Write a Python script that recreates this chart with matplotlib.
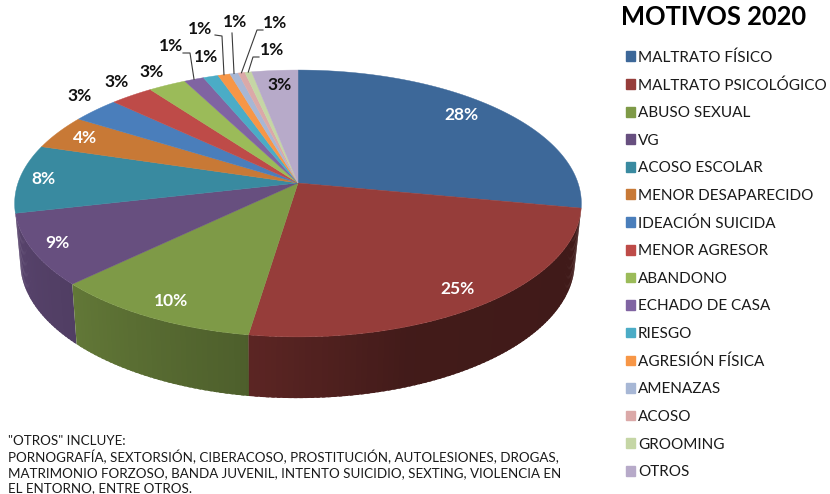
import numpy as np
import matplotlib
matplotlib.use('Agg')
import matplotlib.pyplot as plt
from matplotlib.patches import Patch, Polygon

plt.rcParams['font.family'] = ['Lato', 'DejaVu Sans']

# data
motivos = ['MALTRATO FÍSICO', 'MALTRATO PSICOLÓGICO', 'ABUSO SEXUAL', 'VG', 'ACOSO ESCOLAR',
           'MENOR DESAPARECIDO', 'IDEACIÓN SUICIDA', 'MENOR AGRESOR', 'ABANDONO', 'ECHADO DE CASA',
           'RIESGO', 'AGRESIÓN FÍSICA', 'AMENAZAS', 'ACOSO', 'GROOMING', 'OTROS']
valores = [28.0, 24.4, 10.4, 8.6, 8.3, 4.2, 3.15, 2.85, 2.5, 1.3, 1.0, 0.8, 0.55, 0.45, 0.45, 3.05]
etiquetas = ['28%', '25%', '10%', '9%', '8%', '4%', '3%', '3%', '3%', '1%', '1%', '1%', '1%', '1%', '1%', '3%']
colores = ['#3d6899', '#963d3a', '#7e9a47', '#674f7f', '#398aa0', '#c87936', '#4a7ebb', '#be4b48',
           '#9bbb59', '#8064a2', '#4bacc6', '#f79646', '#a7b7d5', '#dba9a8', '#c5d6a5', '#b7aac9']
nota = ['"OTROS" INCLUYE:',
        'PORNOGRAFÍA, SEXTORSIÓN, CIBERACOSO, PROSTITUCIÓN, AUTOLESIONES, DROGAS,',
        'MATRIMONIO FORZOSO, BANDA JUVENIL, INTENTO SUICIDIO, SEXTING, VIOLENCIA EN',
        'EL ENTORNO, ENTRE OTROS.']

# where each percentage sits in the picture, and the elbow of its leader if it has one
pos_etiquetas = [(461, 115), (457, 289), (171, 301), (57, 243), (43, 179), (85, 138), (80, 96), (117, 82),
                 (152, 72), (171, 46), (206, 57), (200, 29), (235, 22), (275, 23), (272, 50), (280, 85)]
color_etiquetas = ['white'] * 6 + ['#111111'] * 10
codos = {9: [(183, 53), (190, 53)], 11: [(215, 35), (222, 36)], 12: [(232, 33)],
         13: [(263, 30), (257, 30)], 14: [(259, 57), (253, 57)]}

P = 0.1535


def proyecta(ang, cx, cy, a, b):
    # ang in degrees clockwise from the top, perspective makes the front bigger
    u = np.sin(np.radians(ang))
    v = -np.cos(np.radians(ang))
    s = 1 / (1 - P * v)
    return cx + b * u * s, cy + a * v * s


def cara(ang):
    return proyecta(ang, 298, 183, 130.3, 280)


def base(ang):
    return proyecta(ang, 297.5, 241, 133, 274)


def sombra(ang):
    return np.interp(ang, [95, 160, 190, 226, 262], [0.42, 0.44, 0.62, 0.78, 0.87])


def oscurece(color, f):
    return tuple(c * f for c in matplotlib.colors.to_rgb(color))


fig = plt.figure(figsize=(8.3, 4.94), dpi=100)
ax = fig.add_axes([0, 0, 1, 1])
ax.set_xlim(0, 830)
ax.set_ylim(494, 0)
ax.axis('off')

limites = np.concatenate([[0], np.cumsum(valores)]) / sum(valores) * 360

# side wall, only the three slices facing us. strips overlap the next one so no seams show
for i in [3, 2, 1]:
    ini, fin = limites[i], limites[i + 1]
    angs = np.arange(fin, ini, -1.0)
    for a1 in angs:
        a0 = max(a1 - 1.6, ini)
        c = oscurece(colores[i], sombra(a1 - 0.5))
        ax.add_patch(Polygon([cara(a0), cara(a1), base(a1), base(a0)], closed=True,
                             facecolor=c, edgecolor='none', zorder=2))

# top face
for i, color in enumerate(colores):
    angs = np.linspace(limites[i], limites[i + 1], max(int(valores[i] * 6), 4))
    pts = [cara(a) for a in angs] + [(298, 183)]
    ax.add_patch(Polygon(pts, closed=True, facecolor=color, edgecolor=color, linewidth=0.3, zorder=3))

# leaders
for i, elbow in codos.items():
    media = (limites[i] + limites[i + 1]) / 2
    pts = elbow + [cara(media)]
    ax.plot([p[0] for p in pts], [p[1] for p in pts], color='#3a3a3a', lw=0.8, zorder=4)

for txt, (x, y), c in zip(etiquetas, pos_etiquetas, color_etiquetas):
    ax.text(x, y, txt, color=c, fontsize=12.5, fontweight='bold', ha='center', va='center', zorder=5)

ax.text(621, 17, 'MOTIVOS 2020', fontsize=18.4, fontweight='bold', color='black', ha='left', va='center')

handles = [Patch(facecolor=c, edgecolor=c, label=m) for m, c in zip(motivos, colores)]
ax.legend(handles=handles, loc='upper left', bbox_to_anchor=(626 / 830, 1 - 50 / 494), frameon=False,
          fontsize=11, labelspacing=0.886, handlelength=0.6, handleheight=0.6, handletextpad=0.17,
          borderpad=0, borderaxespad=0, labelcolor='#1a1a1a')

for linea, y in zip(nota, [441, 457, 473, 488]):
    ax.text(8, y, linea, fontsize=9.65, color='#1a1a1a', ha='left', va='center')

fig.savefig('out.png', dpi=100)
